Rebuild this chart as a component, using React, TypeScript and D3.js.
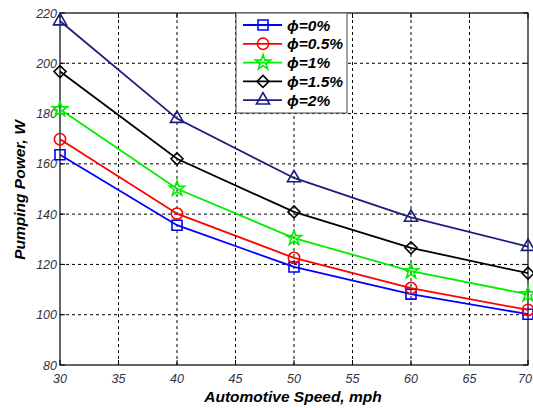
import React, { useEffect, useRef } from "react";
import * as d3 from "d3";

// speeds (mph) and pumping power (W) per nanoparticle volume fraction
const speeds = [30, 40, 50, 60, 70];
const phi0 = [163.6, 135.6, 119.0, 108.2, 100.2];
const phi05 = [169.8, 140.2, 122.6, 110.6, 101.9];
const phi1 = [181.7, 150.1, 130.5, 117.3, 108.1];
const phi15 = [196.7, 162.0, 140.9, 126.6, 116.5];
const phi2 = [216.8, 178.0, 154.4, 138.7, 127.1];
const seriesNames = ["ϕ=0%", "ϕ=0.5%", "ϕ=1%", "ϕ=1.5%", "ϕ=2%"];
const xTicks = [30, 35, 40, 45, 50, 55, 60, 65, 70];
const yTicks = [80, 100, 120, 140, 160, 180, 200, 220];

const colors = ["#0000ff", "#ff0000", "#00ee00", "#000000", "#1c1c80"];
const markers = ["square", "circle", "star", "diamond", "triangle"];

const App = () => {
  const svgRef = useRef(null);
  const width = 533;
  const height = 408;
  const margin = { top: 13, right: 4, bottom: 43, left: 60 };

  useEffect(() => {
    const svg = d3.select(svgRef.current);
    svg.selectAll("*").remove();

    const x = d3
      .scaleLinear()
      .domain([30, 70])
      .range([margin.left, width - margin.right - 1]);
    const y = d3
      .scaleLinear()
      .domain([80, 220])
      .range([height - margin.bottom, margin.top]);

    const font = "'Liberation Sans', Arial, sans-serif";
    const x0 = x.range()[0];
    const x1 = x.range()[1];
    const y0 = y.range()[0];
    const y1 = y.range()[1];

    // white background
    svg.append("rect").attr("width", width).attr("height", height).attr("fill", "#fff");

    // grid
    const grid = svg.append("g").attr("stroke", "#000").attr("stroke-width", 1).attr("stroke-dasharray", "3,3");
    xTicks.slice(1, -1).forEach((t) => {
      grid.append("line").attr("x1", x(t)).attr("x2", x(t)).attr("y1", y0).attr("y2", y1);
    });
    yTicks.slice(1, -1).forEach((t) => {
      grid.append("line").attr("x1", x0).attr("x2", x1).attr("y1", y(t)).attr("y2", y(t));
    });

    // inward ticks on all sides
    const ticks = svg.append("g").attr("stroke", "#000").attr("stroke-width", 1);
    xTicks.forEach((t) => {
      ticks.append("line").attr("x1", x(t)).attr("x2", x(t)).attr("y1", y0).attr("y2", y0 - 5);
      ticks.append("line").attr("x1", x(t)).attr("x2", x(t)).attr("y1", y1).attr("y2", y1 + 5);
    });
    yTicks.forEach((t) => {
      ticks.append("line").attr("x1", x0).attr("x2", x0 + 5).attr("y1", y(t)).attr("y2", y(t));
      ticks.append("line").attr("x1", x1).attr("x2", x1 - 5).attr("y1", y(t)).attr("y2", y(t));
    });

    // box
    svg
      .append("rect")
      .attr("x", x0)
      .attr("y", y1)
      .attr("width", x1 - x0)
      .attr("height", y0 - y1)
      .attr("fill", "none")
      .attr("stroke", "#000")
      .attr("stroke-width", 1.2);

    // tick labels (last one kept inside the frame)
    svg
      .append("g")
      .selectAll("text")
      .data(xTicks)
      .enter()
      .append("text")
      .attr("x", (d, i) => (i === xTicks.length - 1 ? width - 1 : x(d)))
      .attr("y", y0 + 18)
      .attr("text-anchor", (d, i) => (i === xTicks.length - 1 ? "end" : "middle"))
      .style("font-family", font)
      .style("font-style", "italic")
      .style("font-size", "12.5px")
      .attr("fill", "#333344")
      .text((d) => d);

    svg
      .append("g")
      .selectAll("text")
      .data(yTicks)
      .enter()
      .append("text")
      .attr("x", x0 - 3)
      .attr("y", (d) => y(d) + 4.5)
      .attr("text-anchor", "end")
      .style("font-family", font)
      .style("font-style", "italic")
      .style("font-size", "12.5px")
      .attr("fill", "#333344")
      .text((d) => d);

    // axis titles
    svg
      .append("text")
      .attr("x", 293)
      .attr("y", 402)
      .attr("text-anchor", "middle")
      .style("font-family", font)
      .style("font-style", "italic")
      .style("font-weight", "bold")
      .style("font-size", "15.5px")
      .text("Automotive Speed, mph");

    svg
      .append("text")
      .attr("transform", "translate(25,190) rotate(-90)")
      .attr("text-anchor", "middle")
      .style("font-family", font)
      .style("font-style", "italic")
      .style("font-weight", "bold")
      .style("font-size", "15.5px")
      .text("Pumping Power, W");

    const symbolFor = (m) => {
      if (m === "square") return d3.symbol().type(d3.symbolSquare).size(100)();
      if (m === "circle") return d3.symbol().type(d3.symbolCircle).size(100)();
      if (m === "star") return d3.symbol().type(d3.symbolStar).size(70)();
      if (m === "diamond") return d3.symbol().type(d3.symbolSquare).size(72)();
      return d3.symbol().type(d3.symbolTriangle).size(75)();
    };
    const rot = (m) => (m === "diamond" ? " rotate(45)" : "");

    const series = [phi0, phi05, phi1, phi15, phi2];
    const line = d3
      .line()
      .x((d) => x(d[0]))
      .y((d) => y(d[1]));

    series.forEach((vals, i) => {
      const pts = speeds.map((s, j) => [s, vals[j]]);
      const g = svg.append("g");
      g.append("path")
        .attr("d", line(pts))
        .attr("fill", "none")
        .attr("stroke", colors[i])
        .attr("stroke-width", 1.8);
      g.selectAll("path.m")
        .data(pts)
        .enter()
        .append("path")
        .attr("class", "m")
        .attr("d", symbolFor(markers[i]))
        .attr("transform", (d) => `translate(${x(d[0])},${y(d[1])})${rot(markers[i])}`)
        .attr("fill", "none")
        .attr("stroke", colors[i])
        .attr("stroke-width", 1.6);
    });

    // legend
    const legend = svg.append("g").attr("transform", "translate(236,13)");
    legend
      .append("rect")
      .attr("width", 111)
      .attr("height", 100)
      .attr("fill", "#fff")
      .attr("stroke", "#666")
      .attr("stroke-width", 1.2);
    const rowH = 18.8;
    seriesNames.forEach((name, i) => {
      const row = legend.append("g").attr("transform", `translate(0,${12 + i * rowH})`);
      row.append("line").attr("x1", 7).attr("x2", 46).attr("y1", 0).attr("y2", 0).attr("stroke", colors[i]).attr("stroke-width", 1.8);
      row
        .append("path")
        .attr("d", symbolFor(markers[i]))
        .attr("transform", `translate(27,0)${rot(markers[i])}`)
        .attr("fill", "none")
        .attr("stroke", colors[i])
        .attr("stroke-width", 1.6);
      row
        .append("text")
        .attr("x", 51)
        .attr("y", 5.5)
        .style("font-family", font)
        .style("font-style", "italic")
        .style("font-weight", "bold")
        .style("font-size", "15.5px")
        .text(name);
    });
  }, []);

  return (
    <svg
      ref={svgRef}
      width={width}
      height={height}
      style={{ position: "absolute", left: 0, top: 0 }}
    ></svg>
  );
};

export default App;
